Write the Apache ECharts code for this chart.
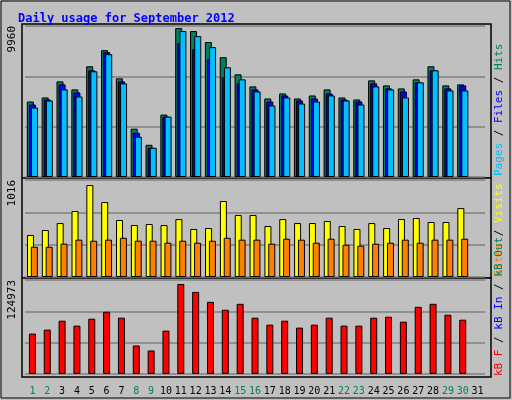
<!DOCTYPE html>
<html>
<head>
<script src="https://cdn.jsdelivr.net/npm/echarts@6/dist/echarts.min.js"></script>
<style>
  html, body { margin: 0; padding: 0; width: 100%; height: 100%; overflow: hidden; background: #c0c0c0; }
  #chart { width: 512px; height: 400px; }
</style>
</head>
<body>
<div id="chart"></div>
<script>
var days = [];
for (var d = 1; d <= 31; d++) days.push(String(d));
var weekend = ['1','2','8','9','15','16','22','23','29','30'];

var hits  = [4980,5246,6308,5777,7304,8366,6507,3187,2125,4117,9827,9628,8898,7902,6773,5976,5179,5511,5179,5378,5777,5246,5113,6374,6042,5843,6441,7304,6042,6109];
var files = [4781,5113,6109,5578,7038,8234,6308,2922,1926,3984,8831,8433,7769,6574,6175,5777,4980,5378,5046,5179,5511,5113,4980,6175,5843,5644,6242,7038,5843,6042];
var pages = [4582,5046,5777,5312,6972,8101,6175,2656,1926,3984,9628,9296,8566,7238,6441,5644,4714,5246,4847,4980,5378,5046,4781,5976,5777,5246,6242,7038,5710,5710];
var visits = [440,492,565,691,963,785,597,544,555,544,607,503,513,796,649,649,534,607,565,565,586,534,503,565,513,607,618,576,576,722];
var sites  = [317,317,349,391,380,391,411,380,380,359,380,359,380,411,391,391,349,401,391,359,401,338,328,349,359,391,359,391,391,401];
var kbytes = [53680,58960,70840,64240,73480,82720,74800,37840,31240,57640,119680,109120,95920,85360,93280,74800,65560,70840,61600,65560,74800,64240,64240,74800,76120,69520,89320,93280,78760,72160];
var maxHits = 9960, maxVisits = 1016, maxKB = 124973;

var font = 'DejaVu Sans Mono';
var panels = [[26, 151], [180, 97], [280, 96]];
var grids = panels.map(function (p) {
  return { left: 25, width: 460, top: p[0], height: p[1] };
});

function xAx(i, showLabels) {
  return {
    type: 'category', data: days, gridIndex: i,
    axisLine: { show: false }, axisTick: { show: false },
    axisLabel: {
      show: showLabels, interval: 0, margin: 8, fontFamily: font, fontSize: 10,
      color: function (v) { return weekend.indexOf(v) >= 0 ? '#00805c' : '#000'; }
    }
  };
}
function yAx(i, max) {
  return {
    type: 'value', gridIndex: i, min: 0, max: max, interval: max / 3,
    axisLabel: { show: false }, axisLine: { show: false }, axisTick: { show: false },
    splitLine: { lineStyle: { color: '#808080', width: 1.5 } }
  };
}
function bar(name, data, color, i, gap) {
  return {
    name: name, type: 'bar', data: data, xAxisIndex: i, yAxisIndex: i,
    barWidth: 7, barGap: gap, animation: false,
    itemStyle: { color: color, borderColor: '#000', borderWidth: 1 }
  };
}

var frames = panels.map(function (p) {
  return { type: 'rect', shape: { x: 22, y: p[0] - 2, width: 469, height: p[1] + 3 },
    style: { fill: '#c0c0c0', stroke: '#000', lineWidth: 1.5 }, z: -1 };
});
function vText(x, y, rich, text, align) {
  return { type: 'text', x: x, y: y, rotation: Math.PI / 2,
    style: { text: text, rich: rich, font: '11px ' + font, align: align, verticalAlign: 'middle' } };
}

var chart = echarts.init(document.getElementById('chart'));
chart.setOption({
  backgroundColor: '#c0c0c0',
  grid: grids,
  xAxis: [xAx(0, false), xAx(1, false), xAx(2, true)],
  yAxis: [yAx(0, maxHits), yAx(1, maxVisits), yAx(2, maxKB)],
  series: [
    bar('Hits', hits, '#00805c', 0, '-70%'),
    bar('Files', files, '#0000ff', 0, '-70%'),
    bar('Pages', pages, '#00c0ff', 0, '-70%'),
    bar('Visits', visits, '#ffff00', 1, '-45%'),
    bar('Sites', sites, '#ff8000', 1, '-45%'),
    bar('KBytes', kbytes, '#ff0000', 2, '0%')
  ],
  graphic: [
    { type: 'rect', shape: { x: 1, y: 1, width: 509, height: 397 },
      style: { fill: 'none', stroke: '#000', lineWidth: 1 }, z: -2 },
    { type: 'text', x: 18, y: 8,
      style: { text: 'Daily usage for September 2012', font: 'bold 12px ' + font, fill: '#0000ff' } }
  ].concat(frames).concat([
    vText(12, 26, null, String(maxHits), 'right'),
    vText(12, 180, null, String(maxVisits), 'right'),
    vText(12, 280, null, String(maxKB), 'right'),
    vText(499, 176, { a: { fill: '#00c0ff' }, b: { fill: '#0000ff' }, c: { fill: '#00805c' }, s: { fill: '#000' } },
      '{a|Pages}{s| / }{b|Files}{s| / }{c|Hits}', 'left'),
    vText(499, 276, { a: { fill: '#ff8000' }, c: { fill: '#ffff00' }, s: { fill: '#000' } },
      '{a|Sites}{s| / }{c|Visits}', 'left'),
    vText(499, 376, { a: { fill: '#ff0000' }, b: { fill: '#0000ff' }, c: { fill: '#00805c' }, s: { fill: '#000' } },
      '{a|kB F}{s| / }{b|kB In}{s| / }{c|kB Out}', 'left')
  ])
});
</script>
</body>
</html>
